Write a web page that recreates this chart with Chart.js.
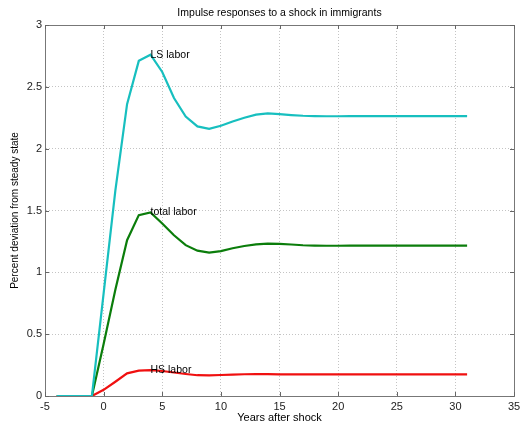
<!DOCTYPE html>
<html>
<head>
<meta charset="utf-8">
<script src="https://cdn.jsdelivr.net/npm/chart.js@4/dist/chart.umd.min.js"></script>
<style>
  body { margin: 0; background: #fff; }
  canvas { display: block; }
</style>
</head>
<body>
<canvas id="irfChart" width="520" height="427"></canvas>
<script>
const years = [-4, -3, -2, -1, 0, 1, 2, 3, 4, 5, 6, 7, 8, 9, 10, 11, 12, 13, 14, 15, 16, 17,
  18, 19, 20, 21, 22, 23, 24, 25, 26, 27, 28, 29, 30, 31];

const lsLabor = [0, 0, 0, 0, 0.83, 1.66, 2.36, 2.71, 2.76, 2.62, 2.41, 2.26, 2.18, 2.16, 2.185,
  2.22, 2.25, 2.275, 2.285, 2.28, 2.272, 2.266, 2.263, 2.262, 2.262, 2.263, 2.263, 2.263,
  2.263, 2.263, 2.263, 2.263, 2.263, 2.263, 2.263, 2.263];

const totalLabor = [0, 0, 0, 0, 0.42, 0.86, 1.26, 1.463, 1.485, 1.395, 1.30, 1.22, 1.175, 1.16,
  1.172, 1.195, 1.213, 1.226, 1.232, 1.23, 1.225, 1.219, 1.216, 1.215, 1.215, 1.216, 1.216,
  1.216, 1.216, 1.216, 1.216, 1.216, 1.216, 1.216, 1.216, 1.216];

const hsLabor = [0, 0, 0, 0, 0.05, 0.115, 0.183, 0.205, 0.21, 0.202, 0.19, 0.178, 0.168, 0.166,
  0.17, 0.173, 0.176, 0.177, 0.177, 0.175, 0.175, 0.175, 0.175, 0.175, 0.175, 0.175, 0.175,
  0.175, 0.175, 0.175, 0.175, 0.175, 0.175, 0.175, 0.175, 0.175];

const seriesNames = ["LS labor", "total labor", "HS labor"];
const labelYear = 4;

const xTicks = [-5, 0, 5, 10, 15, 20, 25, 30, 35];
const yTicks = [0, 0.5, 1, 1.5, 2, 2.5, 3];

const FONT = "'Liberation Sans', Arial, sans-serif";

function toPoints(vals) {
  return years.map((x, i) => ({ x: x, y: vals[i] }));
}

// text labels next to each curve + matlab style inward ticks
const matlabBits = {
  id: "matlabBits",
  afterDraw(chart) {
    const c = chart.ctx;
    const xs = chart.scales.x;
    const ys = chart.scales.y;
    const a = chart.chartArea;

    c.save();
    c.strokeStyle = "#666";
    c.lineWidth = 1;
    c.beginPath();
    xTicks.forEach(t => {
      const px = Math.round(xs.getPixelForValue(t)) + 0.5;
      c.moveTo(px, a.bottom); c.lineTo(px, a.bottom - 4);
      c.moveTo(px, a.top); c.lineTo(px, a.top + 4);
    });
    yTicks.forEach(t => {
      const py = Math.round(ys.getPixelForValue(t)) + 0.5;
      c.moveTo(a.left, py); c.lineTo(a.left + 4, py);
      c.moveTo(a.right, py); c.lineTo(a.right - 4, py);
    });
    c.stroke();

    c.fillStyle = "#000";
    c.font = "10.5px " + FONT;
    c.textAlign = "left";
    c.textBaseline = "middle";
    const idx = years.indexOf(labelYear);
    [lsLabor, totalLabor, hsLabor].forEach((vals, i) => {
      c.fillText(seriesNames[i], xs.getPixelForValue(labelYear), ys.getPixelForValue(vals[idx]));
    });
    c.restore();
  }
};

const ctx = document.getElementById("irfChart").getContext("2d");

new Chart(ctx, {
  type: "line",
  data: {
    datasets: [
      { label: seriesNames[0], data: toPoints(lsLabor), borderColor: "#17bfbf", borderWidth: 2.2 },
      { label: seriesNames[1], data: toPoints(totalLabor), borderColor: "#0b7d0b", borderWidth: 2.2 },
      { label: seriesNames[2], data: toPoints(hsLabor), borderColor: "#f01010", borderWidth: 2.2 }
    ]
  },
  options: {
    responsive: false,
    animation: false,
    parsing: false,
    elements: { point: { radius: 0 }, line: { tension: 0 } },
    layout: { padding: { left: 0, right: 6, top: 0, bottom: 0 } },
    plugins: {
      legend: { display: false },
      tooltip: { enabled: false },
      title: {
        display: true,
        text: "Impulse responses to a shock in immigrants",
        fullSize: false,
        color: "#000",
        font: { family: FONT, size: 10.5, weight: "normal", lineHeight: 1.2 },
        padding: { top: 7, bottom: 5.4 }
      }
    },
    scales: {
      x: {
        type: "linear",
        min: -5, max: 35,
        afterBuildTicks: s => { s.ticks = xTicks.map(v => ({ value: v })); },
        afterFit: s => { s.height = 31; s.paddingLeft = 0; s.paddingRight = 0; },
        ticks: { color: "#222", font: { family: FONT, size: 11 }, padding: 4, maxRotation: 0,
          callback: v => String(v) },
        grid: { color: "#c4c4c4", drawTicks: false },
        border: { color: "#777", dash: [1, 2] },
        title: {
          display: true, text: "Years after shock", color: "#000",
          font: { family: FONT, size: 11, lineHeight: 1.2 }, padding: { top: 0, bottom: 2 }
        }
      },
      y: {
        min: 0, max: 3,
        afterBuildTicks: s => { s.ticks = yTicks.map(v => ({ value: v })); },
        afterFit: s => { s.width = 45; s.paddingTop = 0; s.paddingBottom = 0; },
        ticks: { color: "#222", font: { family: FONT, size: 11 }, padding: 3,
          callback: v => String(v) },
        grid: { color: "#c4c4c4", drawTicks: false },
        border: { color: "#777", dash: [1, 2] },
        title: {
          display: true, text: "Percent deviation from steady state", color: "#000",
          font: { family: FONT, size: 10, lineHeight: 1.2 }, padding: { top: 9, bottom: 0 }
        }
      },
      x2: {
        type: "linear", position: "top", min: -5, max: 35,
        ticks: { display: false },
        afterFit: s => { s.height = 0; s.paddingLeft = 0; s.paddingRight = 0; },
        grid: { drawOnChartArea: false, drawTicks: false },
        border: { color: "#777" }
      },
      y2: {
        type: "linear", position: "right", min: 0, max: 3,
        ticks: { display: false },
        afterFit: s => { s.width = 0; s.paddingTop = 0; s.paddingBottom = 0; },
        grid: { drawOnChartArea: false, drawTicks: false },
        border: { color: "#777" }
      }
    }
  },
  plugins: [matlabBits]
});
</script>
</body>
</html>
